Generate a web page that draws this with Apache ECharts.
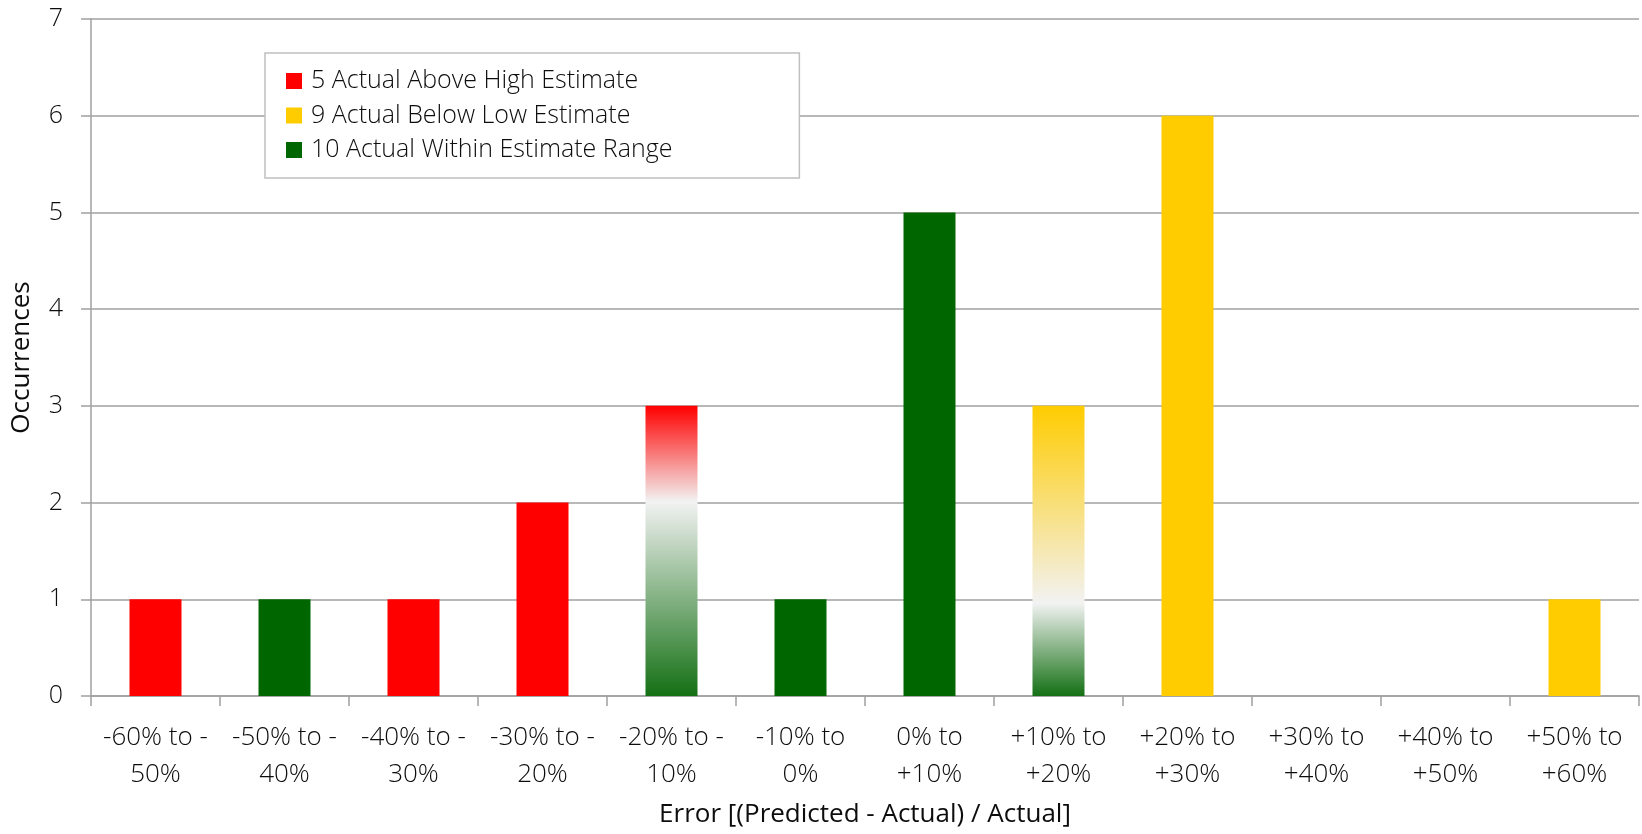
<!DOCTYPE html>
<html>
<head>
<meta charset="utf-8">
<script src="https://cdn.jsdelivr.net/npm/echarts@6/dist/echarts.min.js"></script>
<style>
html,body{margin:0;padding:0;background:#fff;}
#c{width:1642px;height:834px;}
</style>
</head>
<body>
<div id="c"></div>
<script>
var categories = ['-60% to -\n50%', '-50% to -\n40%', '-40% to -\n30%', '-30% to -\n20%', '-20% to -\n10%', '-10% to\n0%', '0% to\n+10%', '+10% to\n+20%', '+20% to\n+30%', '+30% to\n+40%', '+40% to\n+50%', '+50% to\n+60%'];
var occurrences = [1, 1, 1, 2, 3, 1, 5, 3, 6, 0, 0, 1];
// outcome group per bin: A = above high, W = within, B = below low, mixed ones blend
var groups = ['A', 'W', 'A', 'A', 'AW', 'W', 'W', 'BW', 'B', 'B', 'B', 'B'];
var legendNames = ['5 Actual Above High Estimate', '9 Actual Below Low Estimate', '10 Actual Within Estimate Range'];
var yTicks = [0, 1, 2, 3, 4, 5, 6, 7];

var RED = '#ff0000', YEL = '#ffcc00', GRN = '#006600';
function grad(top, mid, pos, bottom) {
  return new echarts.graphic.LinearGradient(0, 0, 0, 1, [
    {offset: 0, color: top}, {offset: pos, color: mid}, {offset: 1, color: bottom}
  ]);
}
var styleFor = {
  A: RED, W: GRN, B: YEL,
  AW: grad(RED, '#f2f2f2', 0.33, '#147014'),
  BW: grad(YEL, '#f2f2f2', 0.68, '#147014')
};
var mainData = occurrences.map(function (v, i) {
  return {value: v, itemStyle: {color: styleFor[groups[i]]}};
});

var FONT = 'Open Sans';
var TXT = '#0d0d0d';
var chart = echarts.init(document.getElementById('c'), null, {renderer: 'canvas'});
chart.setOption({
  animation: false,
  backgroundColor: '#ffffff',
  textStyle: {fontFamily: FONT},
  grid: {left: 91, right: 3, top: 19, bottom: 138, containLabel: false},
  legend: {
    data: legendNames,
    orient: 'vertical',
    left: 265, top: 53,
    padding: [13, 127, 13, 21],
    itemWidth: 16, itemHeight: 16, itemGap: 4.5,
    icon: 'rect',
    backgroundColor: '#fff',
    borderColor: '#c0c0c0', borderWidth: 1.5,
    textStyle: {fontFamily: FONT, fontSize: 25, color: TXT, fontWeight: 300, lineHeight: 30, padding: [0, 0, 0, 4]}
  },
  xAxis: {
    type: 'category',
    data: categories,
    name: 'Error [(Predicted - Actual) / Actual]',
    nameLocation: 'middle',
    nameGap: 106,
    nameTextStyle: {fontFamily: FONT, fontSize: 26, color: TXT},
    axisLine: {lineStyle: {color: '#a0a0a0', width: 1.5}},
    axisTick: {show: true, length: 10, lineStyle: {color: '#a0a0a0', width: 1.5}},
    axisLabel: {interval: 0, fontFamily: FONT, fontSize: 26, fontWeight: 300, color: TXT, lineHeight: 37, margin: 23}
  },
  yAxis: {
    type: 'value',
    min: yTicks[0], max: yTicks[yTicks.length - 1], interval: 1,
    name: 'Occurrences',
    nameLocation: 'middle',
    nameGap: 56,
    nameTextStyle: {fontFamily: FONT, fontSize: 26, color: TXT},
    axisLine: {show: true, lineStyle: {color: '#a0a0a0', width: 1.5}},
    axisTick: {show: true, length: 10, lineStyle: {color: '#a0a0a0', width: 1.5}},
    splitLine: {lineStyle: {color: '#a0a0a0', width: 1.5}},
    axisLabel: {fontFamily: FONT, fontSize: 25, fontWeight: 300, color: TXT, margin: 28}
  },
  series: [
    {name: 'occ', type: 'bar', stack: 'all', barWidth: 52, data: mainData, z: 3},
    {name: legendNames[0], type: 'bar', stack: 'all', data: [], itemStyle: {color: RED}},
    {name: legendNames[1], type: 'bar', stack: 'all', data: [], itemStyle: {color: YEL}},
    {name: legendNames[2], type: 'bar', stack: 'all', data: [], itemStyle: {color: GRN}}
  ]
});
</script>
</body>
</html>
